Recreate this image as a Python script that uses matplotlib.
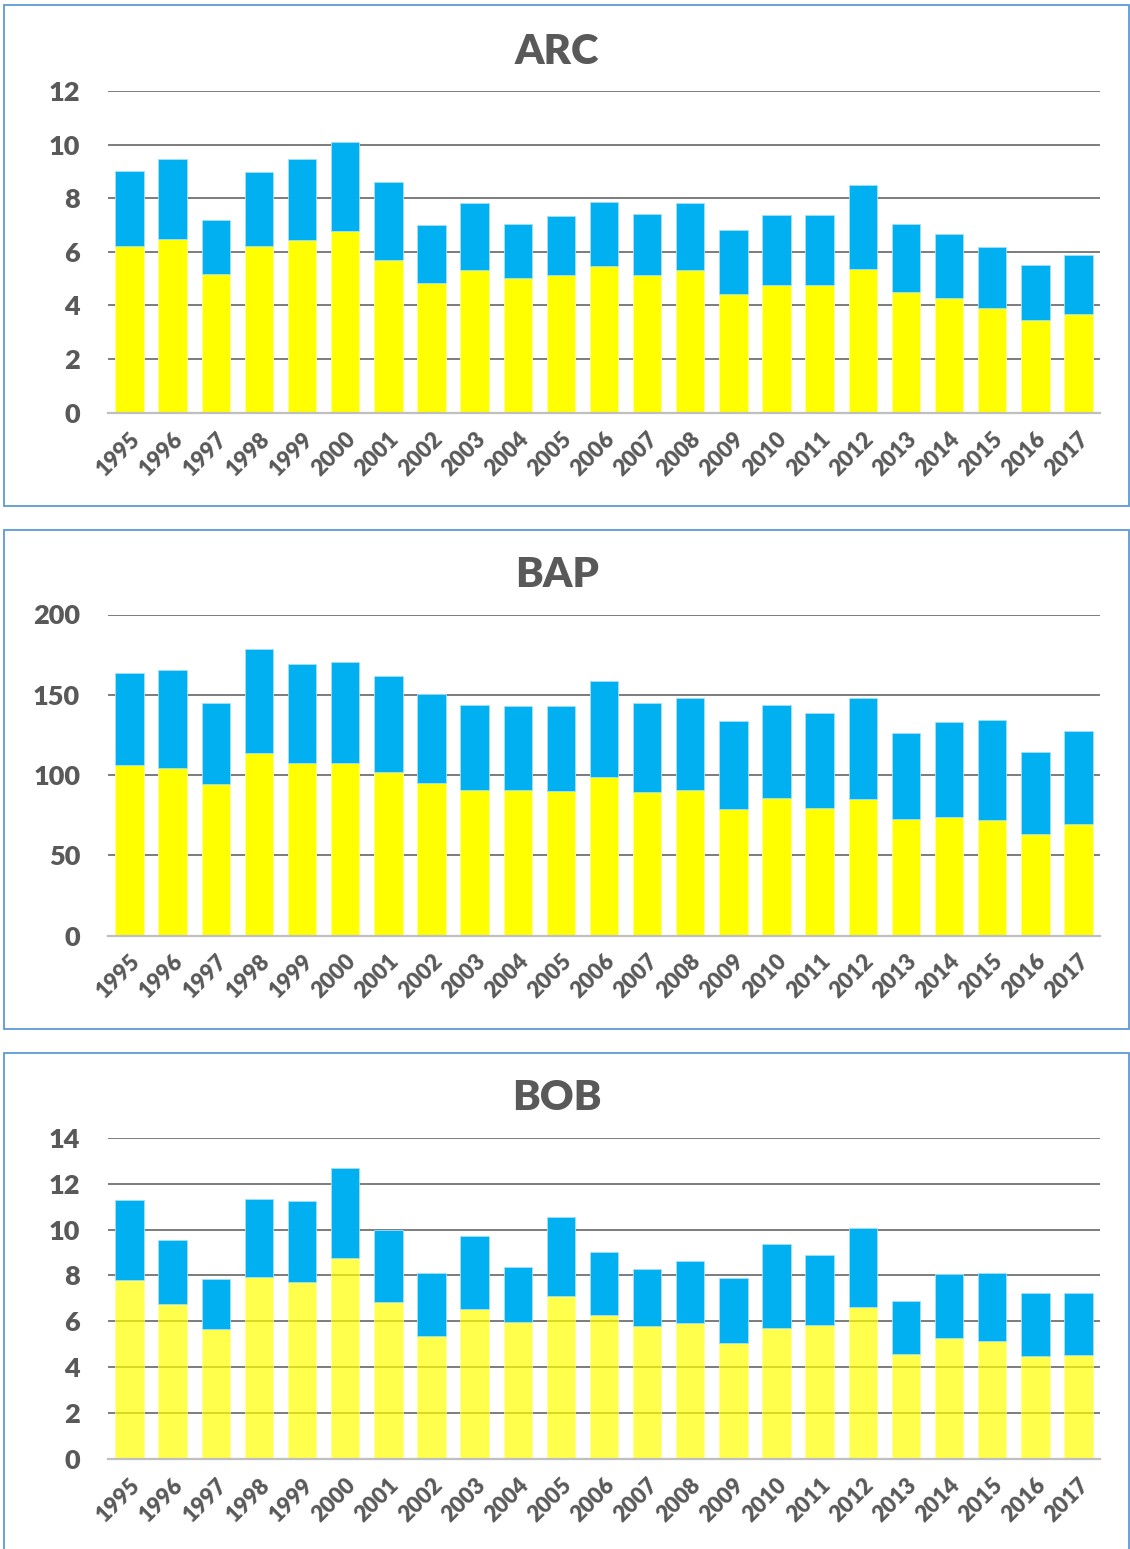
import matplotlib.pyplot as plt
import matplotlib.patches as patches
import numpy as np

years = [str(y) for y in range(1995, 2018)]

# ARC
arc_yellow = [6.23, 6.49, 5.17, 6.23, 6.44, 6.77, 5.71, 4.85, 5.33, 5.01, 5.14, 5.46,
              5.14, 5.33, 4.44, 4.76, 4.76, 5.36, 4.49, 4.28, 3.89, 3.44, 3.68]
arc_blue = [2.80, 2.98, 2.03, 2.76, 3.03, 3.31, 2.90, 2.15, 2.48, 2.04, 2.21, 2.39,
            2.28, 2.50, 2.39, 2.60, 2.62, 3.14, 2.54, 2.39, 2.29, 2.08, 2.19]

# BAP
bap_yellow = [106.5, 104.6, 94.6, 113.6, 107.7, 107.3, 101.7, 94.9, 90.7, 90.9, 90.1, 99.0,
              89.3, 90.7, 78.7, 85.9, 79.5, 85.3, 72.8, 73.9, 71.8, 63.1, 69.5]
bap_blue = [57.3, 61.1, 50.5, 64.6, 61.6, 63.4, 60.1, 55.8, 53.0, 52.4, 52.8, 59.5,
            55.5, 57.4, 54.8, 57.8, 59.2, 62.6, 53.4, 59.0, 62.7, 51.5, 58.0]

# BOB
bob_yellow = [7.79, 6.74, 5.65, 7.95, 7.72, 8.76, 6.84, 5.36, 6.52, 5.98, 7.12, 6.28,
              5.81, 5.94, 5.05, 5.69, 5.83, 6.64, 4.57, 5.27, 5.15, 4.50, 4.53]
bob_blue = [3.49, 2.81, 2.20, 3.39, 3.52, 3.92, 3.15, 2.76, 3.22, 2.40, 3.42, 2.73,
            2.47, 2.69, 2.84, 3.67, 3.05, 3.45, 2.33, 2.80, 2.97, 2.75, 2.69]

W, H = 1130, 1549
GRAY = '#595959'
plt.rcParams['font.family'] = ['Lato', 'DejaVu Sans']
plt.rcParams['font.weight'] = 'bold'

fig = plt.figure(figsize=(W / 100, H / 100), dpi=100)


def panel(top_px, bottom_px, zero_px, max_px, title, title_y, yellow, blue, ymax, step, yalpha=1.0):
    # ramka panelu
    rect = patches.Rectangle((4 / W, 1 - bottom_px / H), 1125 / W, (bottom_px - top_px) / H,
                             transform=fig.transFigure, fill=False, edgecolor='#5B9BD5',
                             linewidth=1.3, clip_on=False)
    fig.add_artist(rect)
    fig.text(557 / W, 1 - title_y / H, title, ha='center', va='center',
             fontsize=30, fontweight='heavy', color=GRAY)

    ax = fig.add_axes([108 / W, 1 - zero_px / H, 992 / W, (zero_px - max_px) / H])
    x = np.arange(len(years))
    ax.bar(x, yellow, width=0.66, color='#FFFF00', alpha=yalpha, zorder=3,
           edgecolor='#FFFF99', linewidth=0.6)
    ax.bar(x, blue, bottom=yellow, width=0.66, color='#00B0F0', zorder=3,
           edgecolor='#A6E0F8', linewidth=0.6)

    ax.set_xlim(-0.5, len(years) - 0.5)
    ax.set_ylim(0, ymax)
    ax.set_yticks(np.arange(0, ymax + step / 2, step))
    ax.yaxis.grid(True, color=GRAY, linewidth=1.1, zorder=0)
    ax.set_axisbelow(True)
    for s in ['left', 'right', 'top']:
        ax.spines[s].set_visible(False)
    ax.spines['bottom'].set_color('#BFBFBF')
    ax.spines['bottom'].set_linewidth(1.6)
    ax.spines['bottom'].set_zorder(4)

    ax.set_xticks(x)
    ax.set_xticklabels(years, rotation=45, ha='right', rotation_mode='anchor',
                       fontsize=16, fontweight='heavy', color=GRAY)
    ax.tick_params(axis='x', length=0, pad=11)
    ax.tick_params(axis='y', length=0, pad=20, labelsize=19.5, labelcolor=GRAY)
    for t in ax.get_yticklabels():
        t.set_fontweight('heavy')
    return ax


panel(5, 506, 412.7, 91, 'ARC', 52, arc_yellow, arc_blue, 12, 2)
panel(530, 1029, 935.5, 614.5, 'BAP', 575, bap_yellow, bap_blue, 200, 50)
panel(1053, 1560, 1458.7, 1138, 'BOB', 1098, bob_yellow, bob_blue, 14, 2, yalpha=0.7)

plt.savefig('out.png', dpi=100)
